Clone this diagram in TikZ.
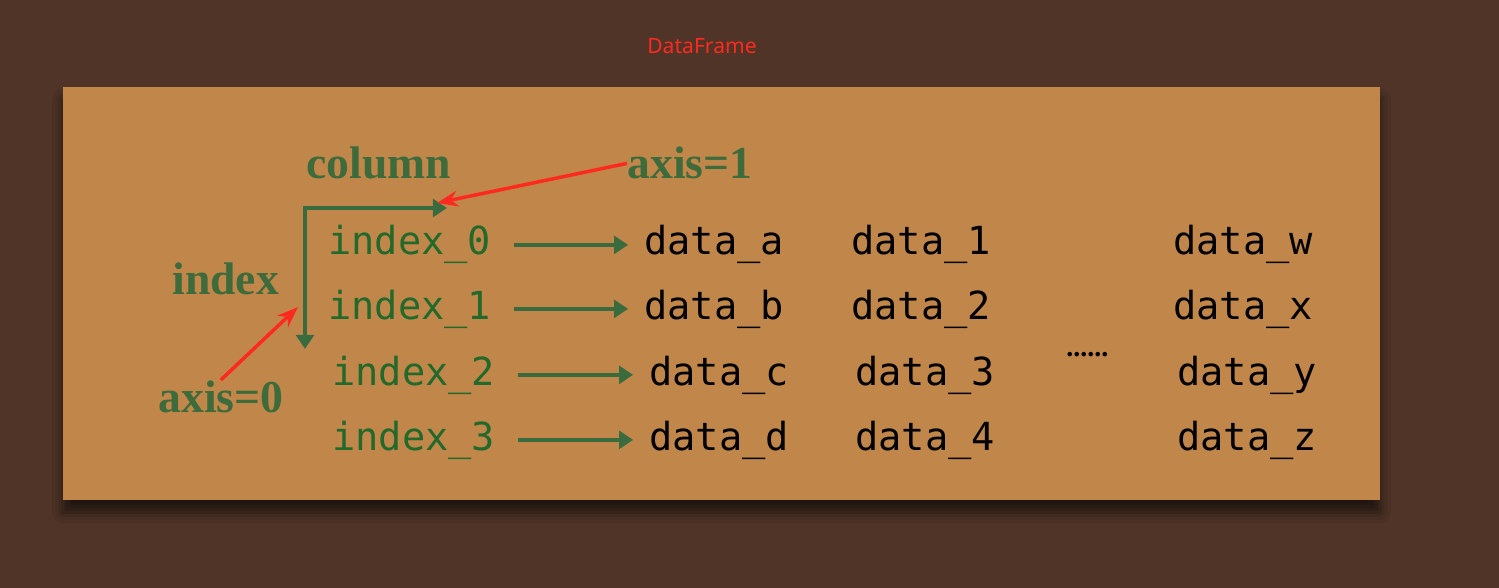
\documentclass[tikz,border=0pt]{standalone}
\usepackage{fontspec}
\setmainfont{Liberation Serif}
\newfontfamily\monofont{DejaVu Sans Mono}
\newfontfamily\uifont{Noto Sans}
\usetikzlibrary{arrows.meta,shadows.blur}

\definecolor{woodbg}{HTML}{4F3427}
\definecolor{panelfill}{HTML}{C1874A}
\definecolor{axisgreen}{HTML}{3D6B3B}
\definecolor{idxgreen}{HTML}{22692B}
\definecolor{arrowgreen}{HTML}{3A6B3E}
\definecolor{markred}{HTML}{FF2A1F}

\begin{document}
\begin{tikzpicture}[x=0.02cm,y=-0.02cm,
  axislabel/.style={font=\fontsize{26}{26}\selectfont\bfseries, text=axisgreen, inner sep=0pt, anchor=base west},
  idx/.style={font=\monofont\fontsize{22}{22}\selectfont, text=idxgreen, inner sep=0pt, anchor=base west},
  val/.style={idx, text=black},
  maparrow/.style={draw=arrowgreen, line width=2.4pt, -{Triangle[length=8pt,width=10pt]}, shorten <=13pt, shorten >=9pt},
  axisline/.style={draw=arrowgreen, line width=2.4pt, {Triangle[length=8pt,width=10pt]}-{Triangle[length=8pt,width=10pt]}},
  pointer/.style={draw=markred, line width=2pt, -{Stealth[length=12pt,width=9pt]}}]

\useasboundingbox (0,0) rectangle (1499,588);
\fill[woodbg] (0,0) rectangle (1499,588);

%% panel
\fill[panelfill, blur shadow={shadow xshift=0pt, shadow yshift=-7pt, shadow blur radius=6pt, shadow opacity=60}] (63,87) rectangle (1380,500);

\node[font=\uifont\fontsize{12}{12}\selectfont, text=markred, inner sep=0pt, anchor=base west] (title) at (647,54) {DataFrame};

%% axis labels
\node[axislabel] (column) at (306,179) {column};
\node[axislabel] (axis1) at (627,179) {axis=1};
\node[axislabel] (index) at (172,295) {index};
\node[axislabel] (axis0) at (158,412) {axis=0};

%% index entries
\node[idx] (i0) at (328,255) {index\_0};
\node[idx] (i1) at (328,319) {index\_1};
\node[idx] (i2) at (332,385) {index\_2};
\node[idx] (i3) at (332,450) {index\_3};

%% values
\node[val] (a0) at (644,255) {data\_a};
\node[val] (a1) at (644,319) {data\_b};
\node[val] (a2) at (649,385) {data\_c};
\node[val] (a3) at (649,450) {data\_d};
\node[val] (b0) at (851,255) {data\_1};
\node[val] (b1) at (851,319) {data\_2};
\node[val] (b2) at (855,385) {data\_3};
\node[val] (b3) at (855,450) {data\_4};
\node[val] (c0) at (1173,255) {data\_w};
\node[val] (c1) at (1173,319) {data\_x};
\node[val] (c2) at (1177,385) {data\_y};
\node[val] (c3) at (1177,450) {data\_z};
\node[font=\fontsize{16}{16}\selectfont\bfseries, inner sep=0pt, anchor=base west] (gap) at (1066,356) {......};

%% arrows
\draw[maparrow] (i0.east) -- (a0.west);
\draw[maparrow] (i1.east) -- (a1.west);
\draw[maparrow] (i2.east) -- (a2.west);
\draw[maparrow] (i3.east) -- (a3.west);

\coordinate (colend) at (447,208);
\coordinate (rowend) at (305,349);
\draw[axisline] (colend) -| (rowend);

\coordinate (colmark) at (437,203);
\coordinate (rowmark) at (298,307);
\draw[pointer] (axis1.west) -- (colmark);
\draw[pointer] (axis0.north) -- (rowmark);

\end{tikzpicture}
\end{document}
